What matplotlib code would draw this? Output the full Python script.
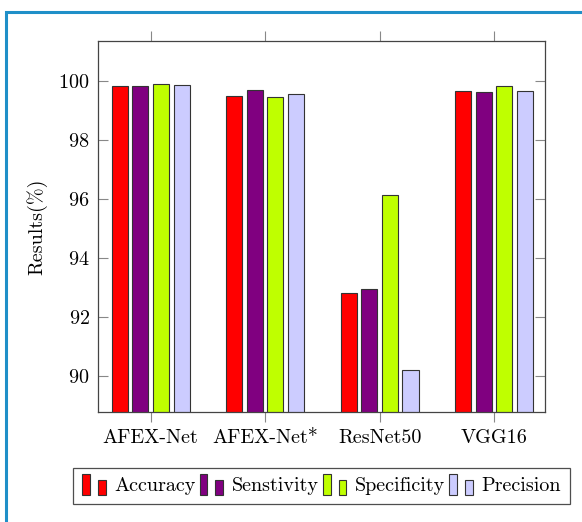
import matplotlib
matplotlib.use("Agg")
import matplotlib.pyplot as plt
import numpy as np
from matplotlib.patches import Rectangle
from matplotlib.legend_handler import HandlerBase

plt.rcParams['font.family'] = 'serif'
plt.rcParams['font.serif'] = ['cmr10', 'DejaVu Serif']
plt.rcParams['mathtext.fontset'] = 'cm'
plt.rcParams['axes.formatter.use_mathtext'] = True

# results per model
models = ['AFEX-Net', 'AFEX-Net*', 'ResNet50', 'VGG16']
metrics = ['Accuracy', 'Senstivity', 'Specificity', 'Precision']
accuracy = [99.83, 99.48, 92.81, 99.65]
sensitivity = [99.81, 99.69, 92.95, 99.63]
specificity = [99.89, 99.44, 96.12, 99.81]
precision = [99.85, 99.55, 90.20, 99.65]
colors = ['#ff0000', '#800080', '#bfff00', '#ccccff']
fs = 14.5


class TwoBarHandler(HandlerBase):
    # legend entry drawn as two small bars
    def create_artists(self, legend, orig_handle, xdescent, ydescent,
                       width, height, fontsize, trans):
        fc = orig_handle.get_facecolor()
        w = width * 0.3
        r1 = Rectangle((-xdescent, -ydescent - height * 0.3), w, height * 1.5,
                       facecolor=fc, edgecolor='#333333', lw=0.8, transform=trans)
        r2 = Rectangle((-xdescent + width * 0.6, -ydescent - height * 0.25), w, height * 1.0,
                       facecolor=fc, edgecolor='#333333', lw=0.8, transform=trans)
        return [r1, r2]


fig = plt.figure(figsize=(5.82, 5.22), dpi=100)
ax = fig.add_axes([98 / 582, 1 - 412 / 522, 447 / 582, 371 / 522])

x = np.arange(len(models))
bw = 0.14
step = 0.18
series = [accuracy, sensitivity, specificity, precision]
handles = []
for i, (vals, c, name) in enumerate(zip(series, colors, metrics)):
    bars = ax.bar(x + (i - 1.5) * step, vals, width=bw, bottom=0, color=c,
                  edgecolor='#333333', linewidth=0.8, label=name)
    handles.append(bars.patches[0])

ax.set_xlim(-0.46, 3.445)
ax.set_ylim(88.77, 101.35)
ax.set_xticks(x)
ax.set_xticklabels(models)
ax.set_yticks([90, 92, 94, 96, 98, 100])
ax.tick_params(axis='y', direction='in', left=True, right=True, length=7,
               color='#888888', labelsize=fs, pad=6)
ax.tick_params(axis='x', direction='out', top=True, bottom=True, length=7,
               color='#888888', labelsize=fs, pad=5)
for s in ax.spines.values():
    s.set_color('#444444')
    s.set_linewidth(0.9)
ax.set_ylabel('Results(%)', fontsize=fs, labelpad=8)

leg = fig.legend(handles, metrics, loc='center', bbox_to_anchor=(321.5 / 582, 1 - 486 / 522),
                 ncol=4, fontsize=fs, frameon=True, fancybox=False,
                 handler_map={Rectangle: TwoBarHandler()},
                 handlelength=1.3, handleheight=0.7, handletextpad=0.3,
                 columnspacing=0.2, borderpad=0.45, borderaxespad=0,
                 edgecolor='#222222')
leg.get_frame().set_linewidth(0.9)

# outer blue frame
fig.add_artist(Rectangle((6 / 582, -0.1), 1.2, 1.1 - 12 / 522, transform=fig.transFigure,
                         fill=False, edgecolor='#1f8fc8', lw=2.2))

fig.savefig('out.png', dpi=100)
